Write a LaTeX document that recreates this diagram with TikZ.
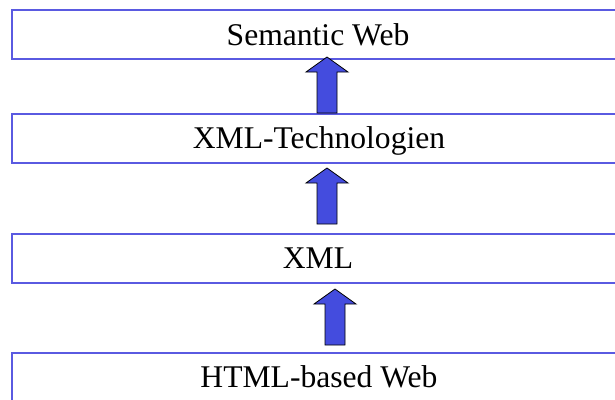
\documentclass[tikz,border=0pt]{standalone}
\usepackage{fontspec}
\setmainfont{Liberation Serif}
\definecolor{boxblue}{RGB}{90,90,225}
\definecolor{arrowblue}{RGB}{68,76,222}
\begin{document}
\begin{tikzpicture}[x=1pt,y=-1pt,
  layer/.style={draw=boxblue,line width=1.6pt,rectangle,inner sep=0pt,
    minimum width=620pt,minimum height=49pt,anchor=north west},
  label/.style={anchor=base,inner sep=0pt,font=\fontsize{31.6}{36}\selectfont},
  uparrow/.pic={\draw[fill=arrowblue,draw=black,line width=0.8pt,line join=miter]
    (0,0) -- (-21,15) -- (-10,15) -- (-10,56) -- (10,56) -- (10,15) -- (21,15) -- cycle;}]
\useasboundingbox (0,0) rectangle (615,399);
\clip (0,0) rectangle (615,399);
\node[layer] (b1) at (11,9) {};
\node[layer] (b2) at (11,113) {};
\node[layer] (b3) at (11,233) {};
\node[layer] (b4) at (11,352) {};
\node[label] (t1) at (318,45) {Semantic Web};
\node[label] (t2) at (319,148) {XML-Technologien};
\node[label] (t3) at (318,268) {XML};
\node[label] (t4) at (319,387) {HTML-based Web};
\coordinate (a1) at (327,57);
\coordinate (a2) at (327,168);
\coordinate (a3) at (335,289);
\pic at (a1) {uparrow};
\pic at (a2) {uparrow};
\pic at (a3) {uparrow};
\end{tikzpicture}
\end{document}
